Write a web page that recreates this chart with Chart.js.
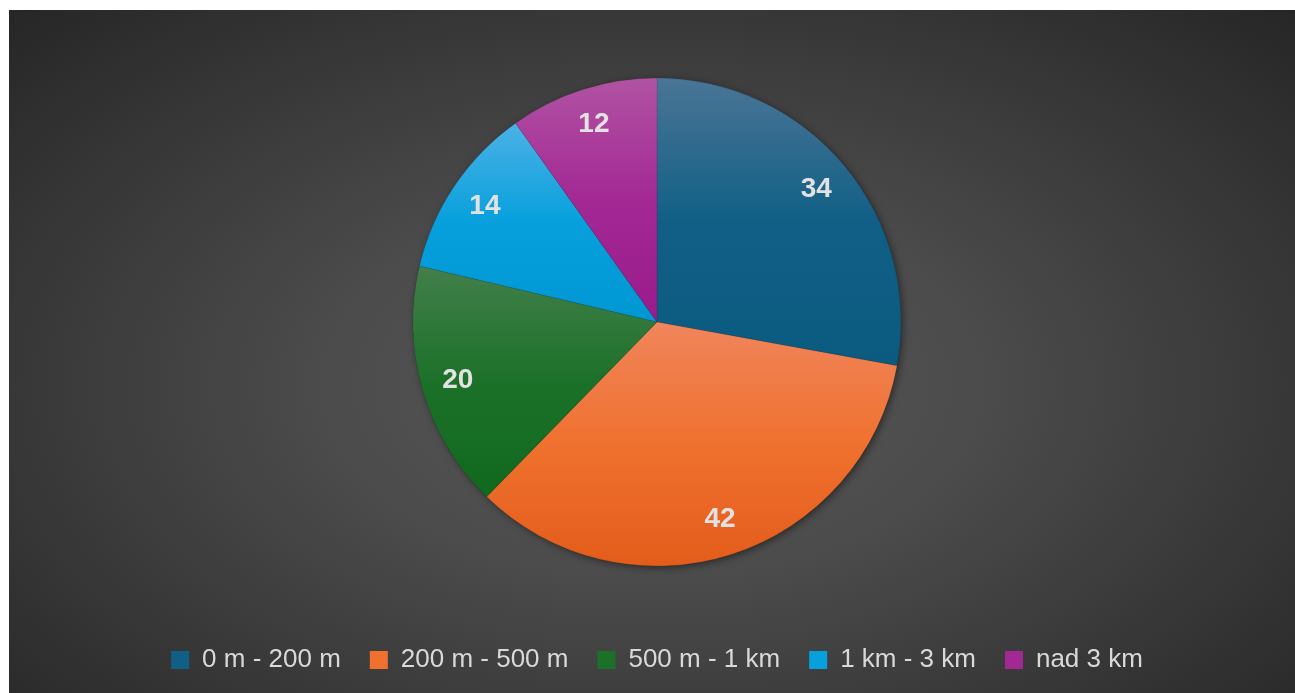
<!DOCTYPE html>
<html>
<head>
<meta charset="utf-8">
<script src="https://cdn.jsdelivr.net/npm/chart.js@4"></script>
<style>
  html, body { margin: 0; padding: 0; background: #fff; }
  #box {
    position: absolute; left: 9px; top: 10px; width: 1286px; height: 683px;
    background: radial-gradient(ellipse farthest-corner at 50% 55%, #595959 0%, #4c4c4c 35%, #262626 100%);
  }
</style>
</head>
<body>
<div id="box"><canvas id="myChart"></canvas></div>
<script>
// Data
const labels = ['0 m - 200 m', '200 m - 500 m', '500 m - 1 km', '1 km - 3 km', 'nad 3 km'];
const values = [34, 42, 20, 14, 12];

// Colours: top / middle / bottom of each slice gradient
const topColors = ['#4a7596', '#f0855c', '#437f4b', '#4cb1e6', '#b153a3'];
const midColors = ['#115f86', '#f0712f', '#1c7129', '#07a0dc', '#a32894'];
const baseColors = ['#0b5a80', '#e35c1a', '#10691e', '#0097d3', '#9a1b8c'];

const total = values.reduce((a, b) => a + b, 0);
const pieRadius = 244;

// vertical gradient over each slice's own bounding box
function sliceGradient(context) {
    const chart = context.chart;
    const area = chart.chartArea;
    const i = context.dataIndex;
    if (!area || i === undefined) return baseColors[i || 0];
    const cx = (area.left + area.right) / 2;
    const cy = (area.top + area.bottom) / 2;
    const r = pieRadius;
    let before = 0;
    for (let k = 0; k < i; k++) before += values[k];
    const a0 = -Math.PI / 2 + before / total * Math.PI * 2;
    const a1 = a0 + values[i] / total * Math.PI * 2;
    let ys = [cy, cy + r * Math.sin(a0), cy + r * Math.sin(a1)];
    [-Math.PI / 2, Math.PI / 2, Math.PI * 1.5].forEach(a => {
        if (a >= a0 && a <= a1) ys.push(cy + r * Math.sin(a));
    });
    const y0 = Math.min(...ys), y1 = Math.max(...ys);
    const g = chart.ctx.createLinearGradient(0, y0, 0, y1 + 0.01);
    g.addColorStop(0, topColors[i]);
    g.addColorStop(0.5, midColors[i]);
    g.addColorStop(1, baseColors[i]);
    return g;
}

// shadow under the pie
const pieShadow = {
    id: 'pieShadow',
    beforeDatasetsDraw(chart) {
        const arc = chart.getDatasetMeta(0).data[0];
        if (!arc) return;
        const ctx = chart.ctx;
        ctx.save();
        ctx.shadowColor = 'rgba(0,0,0,0.55)';
        ctx.shadowBlur = 9;
        ctx.shadowOffsetX = 2;
        ctx.shadowOffsetY = 2;
        ctx.fillStyle = '#333';
        ctx.beginPath();
        ctx.arc(arc.x, arc.y, arc.outerRadius - 1, 0, Math.PI * 2);
        ctx.fill();
        ctx.restore();
    }
};

// value labels inside slices
const sliceLabels = {
    id: 'sliceLabels',
    afterDatasetsDraw(chart) {
        const ctx = chart.ctx;
        const meta = chart.getDatasetMeta(0);
        ctx.save();
        ctx.font = 'bold 28px "Liberation Sans", Arial, sans-serif';
        ctx.fillStyle = '#e2e2e2';
        ctx.textAlign = 'center';
        ctx.textBaseline = 'middle';
        meta.data.forEach((arc, i) => {
            const mid = (arc.startAngle + arc.endAngle) / 2;
            const d = arc.outerRadius * 0.85;
            ctx.fillText(values[i], arc.x + Math.cos(mid) * d, arc.y + Math.sin(mid) * d);
        });
        ctx.restore();
    }
};

const ctx = document.getElementById('myChart').getContext('2d');
const myChart = new Chart(ctx, {
    type: 'pie',
    data: {
        labels: labels,
        datasets: [{
            data: values,
            backgroundColor: sliceGradient,
            borderColor: 'rgba(0,0,0,0.15)',
            borderWidth: 0.6,
            radius: pieRadius
        }]
    },
    options: {
        responsive: true,
        maintainAspectRatio: false,
        animation: false,
        layout: { padding: { top: 16, bottom: 10, left: 10 } },
        plugins: {
            legend: {
                position: 'bottom',
                labels: {
                    color: '#d9d9d9',
                    font: { family: '"Liberation Sans", Arial, sans-serif', size: 26 },
                    boxWidth: 18,
                    boxHeight: 18,
                    padding: 29,
                    generateLabels: (chart) => labels.map((t, i) => ({
                        text: t,
                        fillStyle: midColors[i],
                        strokeStyle: midColors[i],
                        lineWidth: 0,
                        fontColor: '#d9d9d9',
                        index: i,
                        hidden: false
                    }))
                }
            },
            tooltip: { enabled: false }
        }
    },
    plugins: [pieShadow, sliceLabels]
});
</script>
</body>
</html>
